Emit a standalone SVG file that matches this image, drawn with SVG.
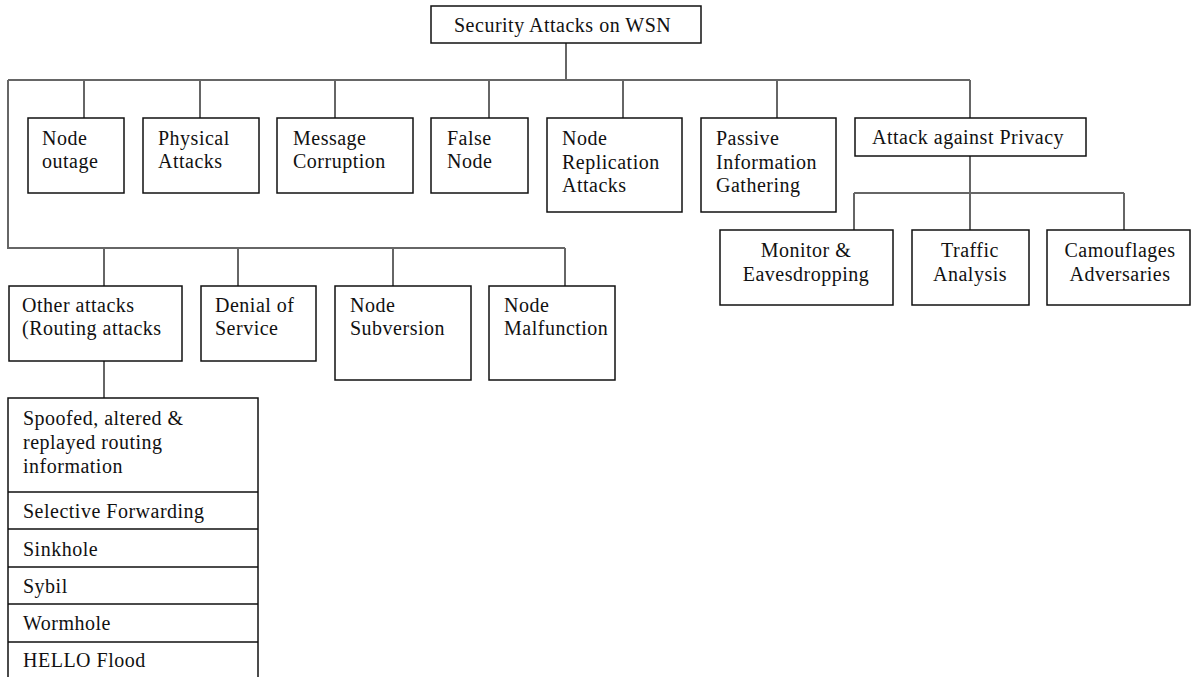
<svg xmlns="http://www.w3.org/2000/svg" width="1196" height="677" viewBox="0 0 1196 677">
<style>
.b{fill:#fff;stroke:#111;stroke-width:1.5}
.c{fill:none;stroke:#666;stroke-width:2}
text{font-family:'Liberation Serif','DejaVu Serif',serif;font-size:20px;fill:#111;letter-spacing:0.5px}
.m{text-anchor:middle}
</style>
<rect width="1196" height="677" fill="#fff"/>
<g id="connectors">
<path class="c" d="M566 43V80M8 80H970M8 80V248H565M84 80V118M200 80V118M335 80V118M489 80V118M623 80V118M777 80V118M970 80V118"/>
<path class="c" d="M970 156V230M854 193H1124M854 193V230M1124 193V230"/>
<path class="c" d="M104 248V286M238 248V286M393 248V286M565 248V286M104 361V398"/>
</g>
<g font-family="Liberation Serif, serif">
<g id="root"><rect class="b" x="431" y="6" width="270" height="37"/><text x="454" y="32">Security Attacks on WSN</text></g>
<g id="n-outage"><rect class="b" x="28" y="118" width="96" height="75"/><text x="42" y="145">Node</text><text x="42" y="168">outage</text></g>
<g id="n-physical"><rect class="b" x="143" y="118" width="116" height="75"/><text x="158" y="145">Physical</text><text x="158" y="168">Attacks</text></g>
<g id="n-message"><rect class="b" x="277" y="118" width="136" height="75"/><text x="293" y="145">Message</text><text x="293" y="168">Corruption</text></g>
<g id="n-false"><rect class="b" x="431" y="118" width="97" height="75"/><text x="447" y="145">False</text><text x="447" y="168">Node</text></g>
<g id="n-replication"><rect class="b" x="547" y="118" width="135" height="94"/><text x="562" y="145">Node</text><text x="562" y="169">Replication</text><text x="562" y="192">Attacks</text></g>
<g id="n-passive"><rect class="b" x="701" y="118" width="135" height="94"/><text x="716" y="145">Passive</text><text x="716" y="169">Information</text><text x="716" y="192">Gathering</text></g>
<g id="n-privacy"><rect class="b" x="855" y="118" width="231" height="38"/><text x="872" y="144">Attack against Privacy</text></g>
<g id="n-monitor"><rect class="b" x="720" y="230" width="173" height="75"/><text class="m" x="806" y="257">Monitor &amp;</text><text class="m" x="806" y="281">Eavesdropping</text></g>
<g id="n-traffic"><rect class="b" x="912" y="230" width="117" height="75"/><text class="m" x="970" y="257">Traffic</text><text class="m" x="970" y="281">Analysis</text></g>
<g id="n-camouflages"><rect class="b" x="1047" y="230" width="143" height="75"/><text class="m" x="1120" y="257">Camouflages</text><text class="m" x="1120" y="281">Adversaries</text></g>
<g id="n-other"><rect class="b" x="9" y="286" width="173" height="75"/><text x="22" y="312">Other attacks</text><text x="22" y="335">(Routing attacks</text></g>
<g id="n-dos"><rect class="b" x="201" y="286" width="115" height="75"/><text x="215" y="312">Denial of</text><text x="215" y="335">Service</text></g>
<g id="n-subversion"><rect class="b" x="335" y="286" width="136" height="94"/><text x="350" y="312">Node</text><text x="350" y="335">Subversion</text></g>
<g id="n-malfunction"><rect class="b" x="489" y="286" width="126" height="94"/><text x="504" y="312">Node</text><text x="504" y="335">Malfunction</text></g>
<g id="n-routing-list">
<rect class="b" x="8" y="398" width="250" height="284"/>
<path fill="none" stroke="#111" stroke-width="1.5" d="M8 492H258M8 529H258M8 567H258M8 604H258M8 642H258"/>
<text x="23" y="425">Spoofed, altered &amp;</text><text x="23" y="449">replayed routing</text><text x="23" y="473">information</text>
<text x="23" y="518">Selective Forwarding</text>
<text x="23" y="556">Sinkhole</text>
<text x="23" y="593">Sybil</text>
<text x="23" y="630">Wormhole</text>
<text x="23" y="667">HELLO Flood</text>
</g>
</g>
</svg>
